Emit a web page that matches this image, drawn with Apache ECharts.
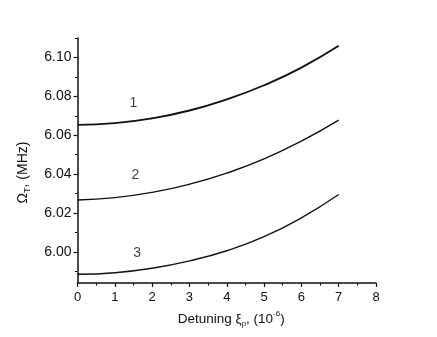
<!DOCTYPE html>
<html>
<head>
<meta charset="utf-8">
<script src="https://cdn.jsdelivr.net/npm/echarts@6/dist/echarts.min.js"></script>
<style>html,body{margin:0;padding:0;background:#fff}#c{width:437px;height:337px}</style>
</head>
<body>
<div id="c"></div>
<script>
var detuning = [0, 1, 2, 3, 4, 5, 6, 7];
var curve1 = [6.0653, 6.0662, 6.0687, 6.0727, 6.0784, 6.0857, 6.0948, 6.1060];
var curve2 = [6.0267, 6.0279, 6.0306, 6.0348, 6.0405, 6.0478, 6.0570, 6.0678];
var curve3 = [5.9885, 5.9893, 5.9916, 5.9954, 6.0006, 6.0078, 6.0175, 6.0295];
var curveNames = ['1', '2', '3'];
var curveLabelX = [1.5, 1.55, 1.6];
var curveLabelY = [6.0765, 6.0395, 5.9995];
var yTickLabels = [6.00, 6.02, 6.04, 6.06, 6.08, 6.10];
var yMinorTicks = [5.99, 6.01, 6.03, 6.05, 6.07, 6.09, 6.11];
var xTickLabels = [0, 1, 2, 3, 4, 5, 6, 7, 8];

var font = 'Liberation Sans, Arial, sans-serif';
function pairs(ys){ return detuning.map(function(x,i){ return [x, ys[i]]; }); }
var curves = [curve1, curve2, curve3];
var widths = [1.9, 1.4, 1.4];
var series = curves.map(function(c, i){
  return {
    type: 'line', data: pairs(c), smooth: 0.5, showSymbol: false, symbol: 'none',
    lineStyle: {color: '#111', width: widths[i]}, silent: true
  };
});
series.push({
  type: 'scatter', symbolSize: 0, silent: true,
  data: curveNames.map(function(n, i){ return {value: [curveLabelX[i], curveLabelY[i]], name: n}; }),
  label: {show: true, position: 'inside', formatter: '{b}', color: '#111', fontSize: 14, fontFamily: font}
});

var chart = echarts.init(document.getElementById('c'), null, {renderer: 'canvas'});
chart.setOption({
  animation: false,
  backgroundColor: '#fff',
  grid: {left: 77.5, right: 61, top: 38, bottom: 54, containLabel: false},
  xAxis: {
    type: 'value', min: 0, max: 8, interval: 1,
    name: '{a|Detuning ξ}{s|p}{a|, (10}{u|-6}{a|)}',
    nameLocation: 'middle', nameGap: 27,
    nameTextStyle: {
      color: '#111', fontFamily: font, fontSize: 13.5, padding: [0, 0, 0, 9],
      rich: {
        a: {fontSize: 13.5, fontFamily: font, color: '#111', lineHeight: 18},
        s: {fontSize: 8, fontFamily: font, color: '#111', lineHeight: 18, verticalAlign: 'bottom', padding: [6,0,0,0]},
        u: {fontSize: 8, fontFamily: font, color: '#111', lineHeight: 18, verticalAlign: 'top', padding: [0,0,6,0]}
      }
    },
    axisLine: {show: true, lineStyle: {color: '#111', width: 1.5}},
    axisTick: {show: true, length: 4, lineStyle: {color: '#111', width: 1.2}},
    minorTick: {show: true, splitNumber: 2, length: 2.5, lineStyle: {color: '#111', width: 1}},
    axisLabel: {color: '#111', fontSize: 13, fontFamily: font, margin: 8,
      formatter: function(v){ return xTickLabels.indexOf(v) >= 0 ? String(v) : ''; }},
    splitLine: {show: false}, minorSplitLine: {show: false}
  },
  yAxis: [{
    type: 'value', min: 5.984, max: 6.11, position: 'left',
    name: '{a|Ω}{s|T}{a|, (MHz)}',
    nameLocation: 'middle', nameGap: 45, nameRotate: 90,
    nameTextStyle: {
      color: '#111', fontFamily: font, fontSize: 14, padding: [0, 24, 0, 0],
      rich: {
        a: {fontSize: 14, fontFamily: font, color: '#111', lineHeight: 18},
        s: {fontSize: 9, fontFamily: font, color: '#111', lineHeight: 18, verticalAlign: 'bottom', padding: [6,0,0,0]}
      }
    },
    axisLine: {show: true, lineStyle: {color: '#111', width: 1.5}},
    axisTick: {show: true, length: 4, customValues: yTickLabels, lineStyle: {color: '#111', width: 1.2}},
    axisLabel: {color: '#111', fontSize: 14, fontFamily: font, margin: 6, customValues: yTickLabels,
      formatter: function(v){ return v.toFixed(2); }},
    splitLine: {show: false}
  }, {
    type: 'value', min: 5.984, max: 6.11, position: 'left', offset: 0,
    axisLine: {show: false},
    axisTick: {show: true, length: 2.5, customValues: yMinorTicks, lineStyle: {color: '#111', width: 1}},
    axisLabel: {show: false},
    splitLine: {show: false}
  }],
  series: series
});
</script>
</body>
</html>
